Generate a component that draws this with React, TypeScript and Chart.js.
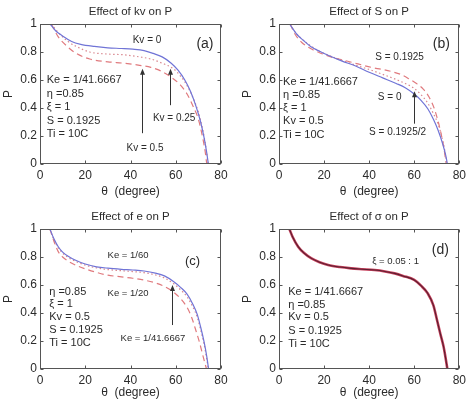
import { useEffect, useRef } from "react";
import { Chart, registerables } from "chart.js";

Chart.register(...registerables);

const FONT = '"Liberation Sans", Arial, sans-serif';
const INK = "#2b2b2b";
const BLUE = "#7074d6";
const RED = "#e07a7e";
const RED_DOT = "#d98890";

const thetaTicks = [0, 20, 40, 60, 80];
const thetaTickLabels = ["0", "20", "40", "60", "80"];
const pTicks = [0, 0.2, 0.4, 0.6, 0.8, 1];
const pTickLabels = ["0", "0.2", "0.4", "0.6", "0.8", "1"];

type Pt = [number, number];

// (a) Effect of Kv on P  — [theta (deg), P]
const kv0: Pt[] = [[4.5, 1.0], [7, 0.95], [10, 0.915], [14, 0.875], [18, 0.855], [24, 0.84], [30, 0.83], [36, 0.825], [41, 0.82], [46, 0.81], [50, 0.79], [54, 0.765], [58, 0.72], [61, 0.67], [64, 0.6], [66.5, 0.52], [69, 0.41], [71, 0.3], [72.5, 0.19], [73.7, 0.08], [74.4, 0]];
const kv025: Pt[] = [[5, 1.0], [8, 0.94], [12, 0.88], [16, 0.84], [22, 0.8], [30, 0.785], [37, 0.78], [44, 0.765], [49, 0.75], [54, 0.72], [59, 0.68], [62, 0.63], [65, 0.56], [68, 0.46], [70, 0.37], [72, 0.24], [73.3, 0.12], [74.3, 0]];
const kv05: Pt[] = [[5, 1.0], [8, 0.91], [12, 0.84], [16, 0.79], [22, 0.75], [30, 0.73], [37, 0.72], [44, 0.705], [49, 0.69], [54, 0.66], [58, 0.62], [62, 0.565], [65, 0.5], [68, 0.4], [70, 0.32], [72, 0.18], [73, 0.09], [73.7, 0]];

// (b) Effect of S on P
const s0: Pt[] = [[4.7, 1.0], [8, 0.925], [11, 0.88], [14, 0.84], [18, 0.805], [22, 0.775], [28, 0.735], [34, 0.7], [40, 0.655], [46, 0.615], [52, 0.575], [56, 0.545], [60, 0.5], [63, 0.455], [66, 0.395], [68.5, 0.32], [70.5, 0.245], [72.5, 0.15], [74, 0.06], [74.7, 0]];
const sFull: Pt[] = [[5, 1.0], [7, 0.93], [10, 0.87], [14, 0.825], [18, 0.795], [23, 0.765], [29, 0.74], [35, 0.715], [41, 0.69], [46, 0.675], [50, 0.66], [54, 0.64], [58, 0.605], [61, 0.575], [64, 0.535], [66.5, 0.48], [68.8, 0.4], [70.5, 0.31], [72, 0.21], [73.2, 0.11], [74, 0.02], [74.2, 0]];
const sHalf: Pt[] = [[5, 1.0], [7, 0.945], [10, 0.895], [14, 0.845], [18, 0.805], [23, 0.77], [29, 0.735], [35, 0.7], [41, 0.67], [46, 0.64], [51, 0.61], [56, 0.575], [60, 0.54], [63, 0.495], [66, 0.435], [68.5, 0.36], [70.5, 0.29], [72.3, 0.19], [73.5, 0.1], [74.4, 0]];

// (c) Effect of e (Ke) on P
const ke60: Pt[] = [[4.4, 1.0], [6, 0.935], [8, 0.875], [10, 0.835], [13, 0.8], [16, 0.775], [20, 0.75], [25, 0.73], [30, 0.72], [36, 0.712], [41, 0.707], [46, 0.7], [51, 0.685], [55, 0.665], [59, 0.625], [62, 0.585], [65, 0.535], [67.5, 0.465], [69.5, 0.39], [71, 0.3], [72.5, 0.195], [73.7, 0.09], [74.5, 0]];
const ke4167: Pt[] = [[4.4, 1.0], [6, 0.93], [8, 0.868], [10, 0.828], [13, 0.792], [16, 0.767], [20, 0.742], [25, 0.722], [30, 0.71], [36, 0.702], [41, 0.696], [46, 0.688], [51, 0.672], [55, 0.65], [59, 0.61], [62, 0.568], [65, 0.515], [67.5, 0.445], [69.5, 0.37], [71, 0.28], [72.5, 0.18], [73.6, 0.08], [74.4, 0]];
const ke20: Pt[] = [[4.4, 1.0], [6, 0.92], [8, 0.84], [10, 0.8], [13, 0.765], [16, 0.74], [20, 0.715], [25, 0.69], [30, 0.67], [36, 0.658], [41, 0.648], [46, 0.635], [51, 0.615], [55, 0.59], [59, 0.55], [62, 0.505], [65, 0.44], [67, 0.37], [69, 0.27], [70.5, 0.19], [72, 0.095], [73.6, 0]];

// (d) Effect of sigma (xi = 0.05 : 1) on P — the family collapses onto one curve
const xiFamily: Pt[] = [[4.6, 1.0], [6, 0.945], [8.5, 0.874], [11, 0.83], [14.4, 0.79], [18, 0.763], [21.8, 0.743], [27, 0.728], [32, 0.719], [37, 0.713], [42.4, 0.707], [47, 0.697], [51.3, 0.683], [55, 0.665], [60, 0.636], [63, 0.595], [66, 0.54], [68.5, 0.455], [70.1, 0.35], [71.6, 0.25], [73, 0.16], [74, 0.07], [74.7, 0]];

type Curve = { label: string; points: Pt[]; color: string; dash: number[]; width: number };
type Note = { text: string; x: number; y: number; size: number; align?: CanvasTextAlign };
type Arrow = { x: number; from: number; to: number };
type PanelSpec = {
  title: string;
  left: number;
  top: number;
  width: number;
  height: number;
  padRight: number;
  xAxisHeight: number;
  xTitlePad: number;
  curves: Curve[];
  notes: Note[];
  arrows: Arrow[];
};

const block = (lines: string[], x: number, ys: number[], size = 11): Note[] =>
  lines.map((text, i) => ({ text, x, y: ys[i], size, align: "left" as CanvasTextAlign }));

const panels: PanelSpec[] = [
  {
    title: "Effect of kv on P",
    left: 0, top: 0, width: 235, height: 200, padRight: 14, xAxisHeight: 36, xTitlePad: 0.8,
    curves: [
      { label: "Kv = 0", points: kv0, color: BLUE, dash: [], width: 1.2 },
      { label: "Kv = 0.25", points: kv025, color: RED_DOT, dash: [1.5, 2.5], width: 1.2 },
      { label: "Kv = 0.5", points: kv05, color: RED, dash: [6, 4], width: 1.2 },
    ],
    notes: [
      { text: "Kv = 0", x: 47.3, y: 0.884, size: 10 },
      { text: "(a)", x: 72.9, y: 0.859, size: 14 },
      { text: "Kv = 0.25", x: 59.3, y: 0.324, size: 10 },
      { text: "Kv = 0.5", x: 46.4, y: 0.114, size: 10 },
      ...block(["Ke = 1/41.6667", "η =0.85", "ξ = 1", "S = 0.1925", "Ti = 10C"], 3.0, [0.598, 0.502, 0.407, 0.31, 0.212]),
    ],
    arrows: [
      { x: 45, from: 0.22, to: 0.68 },
      { x: 57.5, from: 0.42, to: 0.68 },
    ],
  },
  {
    title: "Effect of S on P",
    left: 239, top: 0, width: 231, height: 200, padRight: 10, xAxisHeight: 36, xTitlePad: 0.8,
    curves: [
      { label: "S = 0", points: s0, color: BLUE, dash: [], width: 1.2 },
      { label: "S = 0.1925/2", points: sHalf, color: RED_DOT, dash: [1.5, 2.5], width: 1.2 },
      { label: "S = 0.1925", points: sFull, color: RED, dash: [6, 4], width: 1.2 },
    ],
    notes: [
      { text: "(b)", x: 72.0, y: 0.859, size: 14 },
      { text: "S = 0.1925", x: 53.5, y: 0.764, size: 10 },
      { text: "S = 0", x: 49.1, y: 0.479, size: 10 },
      { text: "S = 0.1925/2", x: 52.6, y: 0.229, size: 10 },
      ...block(["Ke = 1/41.6667", "η =0.85", "ξ = 1", "Kv = 0.5", "Ti = 10C"], 1.8, [0.586, 0.495, 0.4, 0.305, 0.209]),
    ],
    arrows: [{ x: 59.7, from: 0.288, to: 0.52 }],
  },
  {
    title: "Effect of e on P",
    left: 0, top: 205, width: 235, height: 197, padRight: 14, xAxisHeight: 33, xTitlePad: 1.8,
    curves: [
      { label: "Ke = 1/60", points: ke60, color: BLUE, dash: [], width: 1.2 },
      { label: "Ke = 1/41.6667", points: ke4167, color: RED_DOT, dash: [1.5, 2.5], width: 1.2 },
      { label: "Ke = 1/20", points: ke20, color: RED, dash: [6, 4], width: 1.2 },
    ],
    notes: [
      { text: "Ke = 1/60", x: 38.9, y: 0.814, size: 9.5 },
      { text: "Ke = 1/20", x: 38.9, y: 0.541, size: 9.5 },
      { text: "Ke = 1/41.6667", x: 49.9, y: 0.219, size: 9.5 },
      { text: "(c)", x: 67.4, y: 0.766, size: 13 },
      ...block(["η =0.85", "ξ = 1", "Kv = 0.5", "S = 0.1925", "Ti = 10C"], 4.1, [0.552, 0.464, 0.374, 0.279, 0.184]),
    ],
    arrows: [{ x: 58.2, from: 0.314, to: 0.6 }],
  },
  {
    title: "Effect of σ on P",
    left: 239, top: 205, width: 231, height: 197, padRight: 9, xAxisHeight: 33, xTitlePad: 1.8,
    curves: [
      // first dataset is painted last (on top)
      { label: "ξ = 1", points: xiFamily, color: "#5a1f30", dash: [], width: 1.1 },
      { label: "ξ = 0.05", points: xiFamily, color: "#c8405c", dash: [], width: 2.6 },
    ],
    notes: [
      { text: "(d)", x: 71.6, y: 0.85, size: 14 },
      { text: "ξ = 0.05 : 1", x: 51.7, y: 0.766, size: 9.5 },
      ...block(["Ke = 1/41.6667", "η =0.85", "Kv = 0.5", "S = 0.1925", "Ti = 10C"], 4.1, [0.552, 0.457, 0.369, 0.274, 0.179]),
    ],
    arrows: [],
  },
];

function makeDecor(spec: PanelSpec) {
  return {
    id: "panelDecor",
    afterDraw(chart: any) {
      const { ctx, chartArea: a, scales } = chart;
      const xs = scales.x;
      const ys = scales.y;
      const L = Math.round(a.left) + 0.5;
      const R = Math.round(a.right) - 0.5;
      const T = Math.round(a.top) + 0.5;
      const B = Math.round(a.bottom) - 0.5;
      ctx.save();
      ctx.strokeStyle = "#555";
      ctx.lineWidth = 1;
      ctx.strokeRect(L, T, R - L, B - T);
      // inward tick marks on all four sides
      ctx.beginPath();
      thetaTicks.forEach((v) => {
        const px = Math.round(xs.getPixelForValue(v)) + 0.5;
        ctx.moveTo(px, B);
        ctx.lineTo(px, B - 3);
        ctx.moveTo(px, T);
        ctx.lineTo(px, T + 3);
      });
      pTicks.forEach((v) => {
        const py = Math.round(ys.getPixelForValue(v)) + 0.5;
        ctx.moveTo(L, py);
        ctx.lineTo(L + 3, py);
        ctx.moveTo(R, py);
        ctx.lineTo(R - 3, py);
      });
      ctx.stroke();

      // arrows
      ctx.strokeStyle = "#333";
      ctx.fillStyle = "#333";
      spec.arrows.forEach((ar) => {
        const px = Math.round(xs.getPixelForValue(ar.x)) + 0.5;
        const y1 = ys.getPixelForValue(ar.from);
        const y2 = ys.getPixelForValue(ar.to);
        ctx.beginPath();
        ctx.moveTo(px, y1);
        ctx.lineTo(px, y2 + 5);
        ctx.stroke();
        ctx.beginPath();
        ctx.moveTo(px, y2);
        ctx.lineTo(px - 2.5, y2 + 6);
        ctx.lineTo(px + 2.5, y2 + 6);
        ctx.closePath();
        ctx.fill();
      });

      // labels
      ctx.fillStyle = INK;
      ctx.textBaseline = "middle";
      spec.notes.forEach((n) => {
        ctx.font = `${n.size}px ${FONT}`;
        ctx.textAlign = n.align ?? "center";
        ctx.fillText(n.text, xs.getPixelForValue(n.x), ys.getPixelForValue(n.y));
      });
      ctx.restore();
    },
  };
}

function Panel({ spec }: { spec: PanelSpec }) {
  const ref = useRef<HTMLCanvasElement>(null);
  useEffect(() => {
    const chart = new Chart(ref.current as HTMLCanvasElement, {
      type: "line",
      data: {
        datasets: spec.curves.map((c) => ({
          label: c.label,
          data: c.points.map(([x, y]) => ({ x, y })),
          borderColor: c.color,
          borderWidth: c.width,
          borderDash: c.dash,
          pointRadius: 0,
          fill: false,
          cubicInterpolationMode: "monotone" as const,
        })),
      },
      options: {
        responsive: false,
        animation: false,
        devicePixelRatio: 1,
        layout: { padding: { right: spec.padRight } },
        plugins: {
          legend: { display: false },
          tooltip: { enabled: false },
          title: {
            display: true,
            text: spec.title,
            fullSize: false,
            color: INK,
            font: { family: FONT, size: 11.5, weight: "normal" },
            padding: { top: 4.5, bottom: 5.7 },
          },
        },
        scales: {
          x: {
            type: "linear",
            min: 0,
            max: 80,
            afterFit: (s: any) => {
              s.height = spec.xAxisHeight;
            },
            afterBuildTicks: (s: any) => {
              s.ticks = thetaTicks.map((v) => ({ value: v }));
            },
            ticks: {
              callback: (v: any) => thetaTickLabels[thetaTicks.indexOf(Number(v))] ?? "",
              padding: 4,
              color: INK,
              maxRotation: 0,
              autoSkip: false,
              font: { family: FONT, size: 12 },
            },
            grid: { display: false, drawTicks: false },
            border: { display: false },
            title: {
              display: true,
              text: "θ  (degree)",
              color: INK,
              font: { family: FONT, size: 12 },
              padding: { top: 0, bottom: spec.xTitlePad },
            },
          },
          y: {
            type: "linear",
            min: 0,
            max: 1,
            afterFit: (s: any) => {
              s.width = 40;
            },
            afterBuildTicks: (s: any) => {
              s.ticks = pTicks.map((v) => ({ value: v }));
            },
            ticks: {
              callback: (v: any) => pTickLabels[pTicks.indexOf(Number(v))] ?? "",
              padding: 3,
              color: INK,
              autoSkip: false,
              font: { family: FONT, size: 12 },
            },
            grid: { display: false, drawTicks: false },
            border: { display: false },
            title: {
              display: true,
              text: "P",
              color: INK,
              font: { family: FONT, size: 12 },
              padding: { top: 1, bottom: 0 },
            },
          },
        },
      },
      plugins: [makeDecor(spec)],
    } as any);
    return () => chart.destroy();
  }, [spec]);
  return (
    <canvas
      ref={ref}
      width={spec.width}
      height={spec.height}
      style={{ position: "absolute", left: spec.left, top: spec.top, width: spec.width, height: spec.height }}
    />
  );
}

export default function App() {
  return (
    <div style={{ position: "fixed", left: 0, top: 0, width: 470, height: 402, background: "#fff", overflow: "hidden" }}>
      {panels.map((p) => (
        <Panel key={p.title} spec={p} />
      ))}
    </div>
  );
}
